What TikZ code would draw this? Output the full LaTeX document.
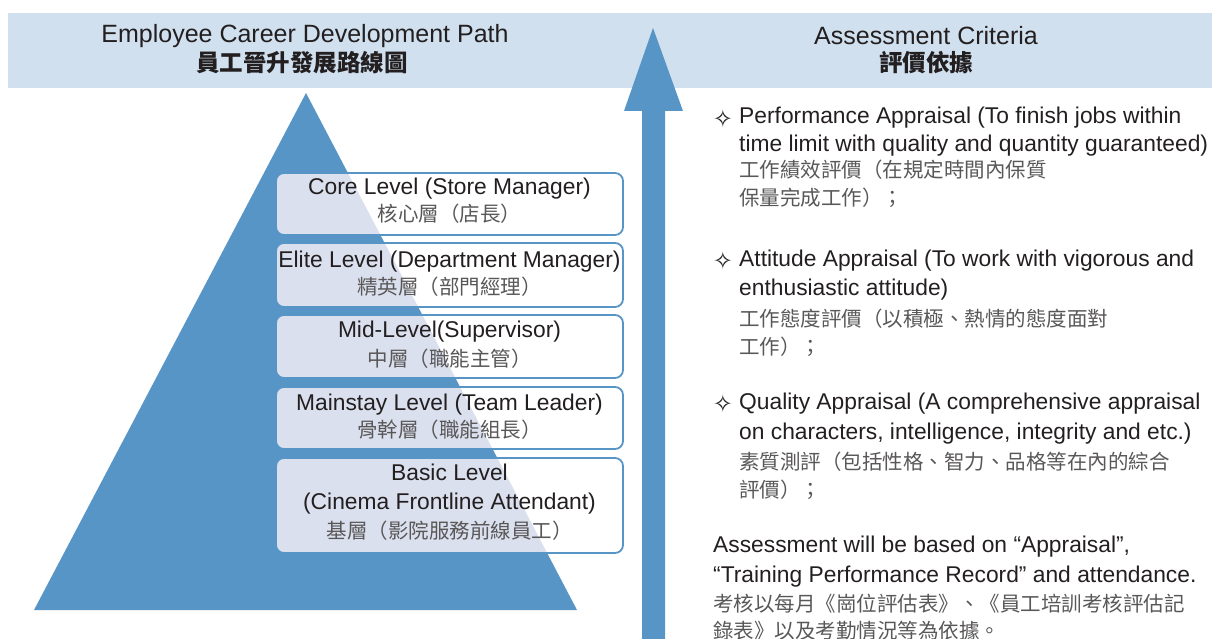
\documentclass[tikz,border=0pt]{standalone}
\usepackage{fontspec}
\setmainfont{Liberation Sans}
\newfontfamily\cjk{Noto Sans CJK TC}
\newfontfamily\symf{DejaVu Sans}
\definecolor{bannerc}{RGB}{208,224,238}
\definecolor{pblue}{RGB}{88,149,199}
\definecolor{boxin}{RGB}{218,224,238}
\definecolor{txt}{RGB}{35,31,32}
\definecolor{cjkgray}{RGB}{89,87,87}
\begin{document}
\begin{tikzpicture}[x=1pt,y=-1pt,
  en/.style={inner sep=0pt, text=txt, font=\fontsize{22.8}{26}\selectfont, text height=16pt, text depth=4pt},
  zh/.style={inner sep=0pt, text=cjkgray, font=\cjk\fontsize{20.5}{24}\selectfont, text height=16pt, text depth=4pt},
  hen/.style={inner sep=0pt, text=txt, font=\fontsize{25}{28}\selectfont},
  hzh/.style={inner sep=0pt, text=txt, font=\cjk\bfseries\fontsize{23.5}{26}\selectfont},
  bul/.style={inner sep=0pt, text=txt, font=\symf\fontsize{24}{26}\selectfont},
  lvl/.style={fill=white, minimum width=347pt, inner sep=0pt, outer sep=0pt, rounded corners=8pt},
  lvlin/.style={fill=boxin, rounded corners=8pt},
  lvlline/.style={draw=pblue, line width=1.8pt, rounded corners=8pt}
]
\useasboundingbox (0,0) rectangle (1212,639);
% banner
\fill[bannerc] (8,13) rectangle (1212,88);
% pyramid
\fill[pblue] (306,93) -- (577,610) -- (34,610) -- cycle;
% arrow
\fill[pblue] (653,28) -- (683,111) -- (665,111) -- (665,639) -- (642,639) -- (642,111) -- (624,111) -- cycle;
% headers
\node[hen] (h1) at (305,36) {Employee Career Development Path};
\node[hzh] (h2) at (302,63) {員工晉升發展路線圖};
\node[hen] (h3) at (926,36) {Assessment Criteria};
\node[hzh] (h4) at (926,63) {評價依據};
% level boxes
\node[lvl, minimum height=62pt] (b1) at (449.5,204) {};
\node[lvl, minimum height=64pt] (b2) at (449.5,275) {};
\node[lvl, minimum height=63pt] (b3) at (449.5,346.5) {};
\node[lvl, minimum height=62pt] (b4) at (449.5,418) {};
\node[lvl, minimum height=95pt] (b5) at (449.5,505.5) {};
\begin{scope}
  \clip (306,93) -- (577,610) -- (34,610) -- cycle;
  \foreach \b in {b1,b2,b3,b4,b5}
    \fill[lvlin] (\b.south west) rectangle (\b.north east);
\end{scope}
\foreach \b in {b1,b2,b3,b4,b5}
  \draw[lvlline] (\b.south west) rectangle (\b.north east);
\node[en] (t1a) at (449.5,189) {Core Level (Store Manager)};
\node[zh] (t1b) at (449.5,216) {核心層（店長）};
\node[en] (t2a) at (449.5,261) {Elite Level (Department Manager)};
\node[zh] (t2b) at (449.5,288) {精英層（部門經理）};
\node[en] (t3a) at (449.5,331) {Mid-Level(Supervisor)};
\node[zh] (t3b) at (449.5,360) {中層（職能主管）};
\node[en] (t4a) at (449.5,404) {Mainstay Level (Team Leader)};
\node[zh] (t4b) at (449.5,431) {骨幹層（職能組長）};
\node[en] (t5a) at (449.5,474) {Basic Level};
\node[en] (t5b) at (449.5,503) {(Cinema Frontline Attendant)};
\node[zh] (t5c) at (449.5,532) {基層（影院服務前線員工）};
% right column
\node[bul] (s1) at (723,119) {✧};
\node[en, anchor=west] (r1a) at (739,118) {Performance Appraisal (To finish jobs within};
\node[en, anchor=west] (r1b) at (739,146) {time limit with quality and quantity guaranteed)};
\node[zh, anchor=west] (r1c) at (739,172) {工作績效評價（在規定時間內保質};
\node[zh, anchor=west] (r1d) at (739,200) {保量完成工作）；};
\node[bul] (s2) at (723,261) {✧};
\node[en, anchor=west] (r2a) at (739,260) {Attitude Appraisal (To work with vigorous and};
\node[en, anchor=west] (r2b) at (739,289) {enthusiastic attitude)};
\node[zh, anchor=west] (r2c) at (739,320) {工作態度評價（以積極、熱情的態度面對};
\node[zh, anchor=west] (r2d) at (739,348) {工作）；};
\node[bul] (s3) at (723,404) {✧};
\node[en, anchor=west] (r3a) at (739,403) {Quality Appraisal (A comprehensive appraisal};
\node[en, anchor=west] (r3b) at (739,433) {on characters, intelligence, integrity and etc.)};
\node[zh, anchor=west] (r3c) at (739,463) {素質測評（包括性格、智力、品格等在內的綜合};
\node[zh, anchor=west] (r3d) at (739,491) {評價）；};
\node[en, anchor=west] (f1) at (713,546) {Assessment will be based on “Appraisal”,};
\node[en, anchor=west] (f2) at (713,576) {“Training Performance Record” and attendance.};
\node[zh, anchor=west] (f3) at (713,605) {考核以每月《崗位評估表》、《員工培訓考核評估記};
\node[zh, anchor=west] (f4) at (713,632) {錄表》以及考勤情況等為依據。};
\end{tikzpicture}
\end{document}
